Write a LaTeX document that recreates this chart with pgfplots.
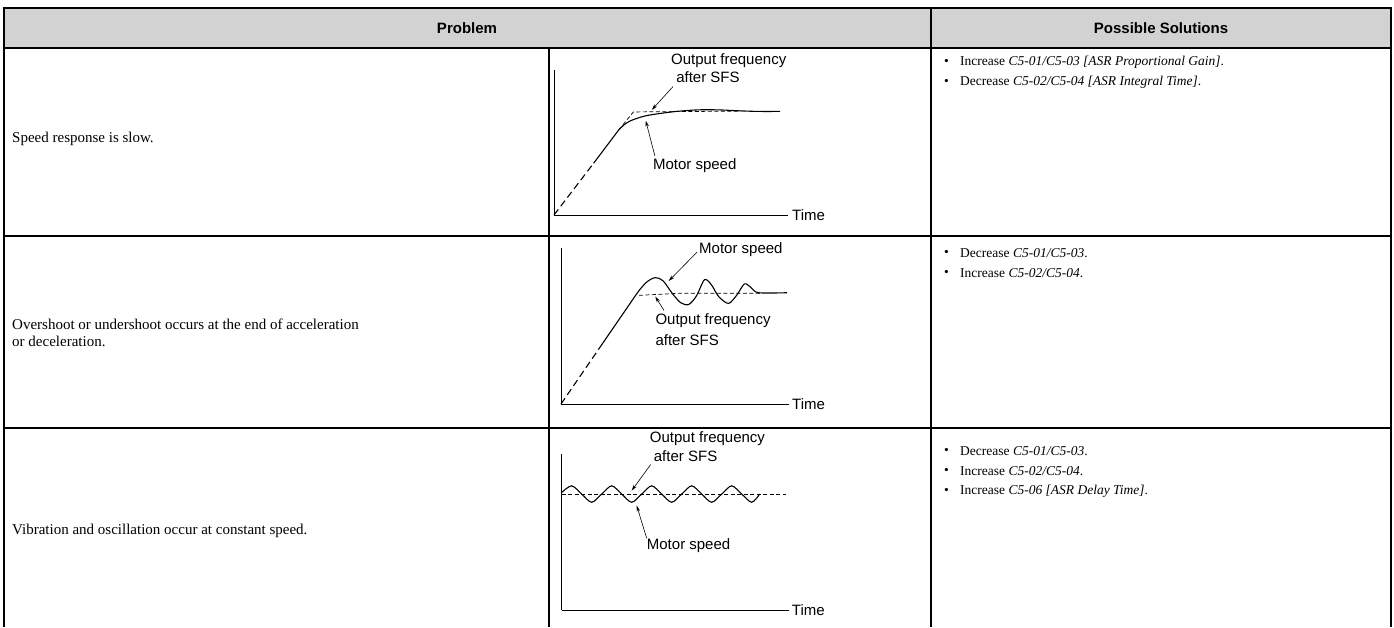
\documentclass[border=0pt]{standalone}
\usepackage{fontspec}
\setmainfont{Liberation Serif}
\setsansfont{Liberation Sans}
\usepackage{pgfplots}
\pgfplotsset{compat=1.18}
\usetikzlibrary{arrows.meta}
\definecolor{hdr}{RGB}{210,210,210}

\pgfplotsset{diag/.style={scale only axis, anchor=origin, xmin=0, ymin=0,
  axis lines=left, axis line style={-, line width=0.9pt}, xtick=\empty, ytick=\empty, clip=false}}
\tikzset{
  lab/.style={font=\sffamily\fontsize{15}{17}\selectfont, inner sep=0pt, anchor=west},
  arr/.style={line width=0.6pt, -{Stealth[length=6pt,width=3.5pt]}},
  ramp/.style={line width=1.1pt, dash pattern=on 7pt off 4pt},
  motor/.style={line width=1.1pt, smooth, tension=0.5},
  sfs/.style={line width=0.7pt, dash pattern=on 4pt off 2.5pt},
  body/.style={font=\fontsize{15}{16.5}\selectfont, inner sep=0pt, anchor=west, align=left},
  sol/.style={font=\fontsize{13.5}{15}\selectfont, inner sep=0pt, anchor=west},
  grid/.style={line width=2pt}}

\begin{document}
\begin{tikzpicture}[x=1pt,y=1pt]
\path[use as bounding box, fill=white] (0,0) rectangle (1394,627);
\fill[hdr] (4,619) rectangle (1391,579);
\draw[grid] (3,619) -- (1392,619);
\draw[line width=2.5pt] (3,579) -- (1392,579);
\draw[grid] (3,391) -- (1392,391);
\draw[grid] (3,199) -- (1392,199);
\draw[grid] (4,620) -- (4,0);
\draw[grid] (1391,620) -- (1391,0);
\draw[grid] (931,620) -- (931,0);
\draw[grid] (549,579) -- (549,0);

% header
\node[font=\sffamily\bfseries\fontsize{15}{17}\selectfont] at (467,599) {Problem};
\node[font=\sffamily\bfseries\fontsize{15}{17}\selectfont] at (1161,599) {Possible Solutions};

% problem texts
\node[body] at (12,488) {Speed response is slow.};
\node[body] at (12,294) {Overshoot or undershoot occurs at the end of acceleration\\or deceleration.};
\node[body] at (12,96) {Vibration and oscillation occur at constant speed.};

% solutions
\foreach \y/\t in {565/{Increase \textit{C5-01/C5-03 [ASR Proportional Gain]}.},
                   545/{Decrease \textit{C5-02/C5-04 [ASR Integral Time]}.},
                   374/{Decrease \textit{C5-01/C5-03}.},
                   354/{Increase \textit{C5-02/C5-04}.},
                   176/{Decrease \textit{C5-01/C5-03}.},
                   156/{Increase \textit{C5-02/C5-04}.},
                   136/{Increase \textit{C5-06 [ASR Delay Time]}.}}{
  \node[sol] at (944,\y) {\textbullet};
  \node[sol] at (960,\y) {\t};
}

% diagram 1: slow response
\begin{axis}[diag, at={(554pt,412pt)}, width=234pt, height=145pt, xmax=232, ymax=140]
\addplot[ramp] coordinates {(0,0) (39.3,50)};
\addplot[line width=1.1pt] coordinates {(39.3,50) (64.3,82.3)};
\addplot[motor] coordinates {(64.3,82.3) (70,87.5) (76,91) (86,94.5) (96,96.7) (119.3,99.8)
  (142.7,101.5) (162.7,101.5) (186,100.5) (202.7,100) (224.3,100)};
\addplot[sfs] coordinates {(64.3,82.3) (78.7,99.5) (186,100.3)};
\draw[arr] (axis cs:118,124) -- (axis cs:97,101.5);
\draw[arr] (axis cs:100,57) -- (axis cs:91,91);
\node[lab] at (axis cs:116,149.5) {Output frequency};
\node[lab] at (axis cs:121,133) {after SFS};
\node[lab] at (axis cs:98,48) {Motor speed};
\node[lab] at (axis cs:236,0) {Time};
\end{axis}

% diagram 2: overshoot
\begin{axis}[diag, at={(561pt,223pt)}, width=228pt, height=156pt, xmax=228, ymax=150]
\addplot[ramp] coordinates {(0,0) (40,56)};
\addplot[line width=1.1pt] coordinates {(40,56) (70,98)};
\addplot[motor] coordinates {(70,98) (78,109) (86,117.5) (94.3,121.5) (102,118.5) (111,106.7)
  (119.5,97.5) (127.7,95.7) (135.5,104) (143.5,119.5) (150.5,114.5) (157.5,103.5)
  (167.5,96.7) (176,105) (183.5,115.5) (190,112) (197.5,107) (226,107)};
\addplot[sfs] coordinates {(78,104.5) (120,106.5) (200,106.5)};
\draw[arr] (axis cs:136,146) -- (axis cs:107.7,118.3);
\draw[arr] (axis cs:103,90) -- (axis cs:94.3,103.3);
\node[lab] at (axis cs:138,148) {Motor speed};
\node[lab] at (axis cs:94.3,80) {Output frequency};
\node[lab] at (axis cs:94.3,61) {after SFS};
\node[lab] at (axis cs:231,0) {Time};
\end{axis}

% diagram 3: vibration
\begin{axis}[diag, at={(561.7pt,17pt)}, width=227pt, height=156pt, xmax=227, ymax=148]
\addplot[sfs] coordinates {(0,110) (224,110)};
\addplot[motor] coordinates {(0,111.5) (10,117.8) (20,110) (30,102.2) (40,110) (50,117.8)
  (60,110) (70,102.2) (80,110) (90,117.8) (100,110) (110,102.2) (120,110) (130,117.8)
  (140,110) (150,102.2) (160,110) (170,117.8) (180,110) (190,102.2) (198,110)};
\draw[arr] (axis cs:89,138) -- (axis cs:70,113.3);
\draw[arr] (axis cs:85,68) -- (axis cs:75,99);
\node[lab] at (axis cs:88,163) {Output frequency};
\node[lab] at (axis cs:92,146) {after SFS};
\node[lab] at (axis cs:85,61) {Motor speed};
\node[lab] at (axis cs:230,0) {Time};
\end{axis}
\end{tikzpicture}
\end{document}
